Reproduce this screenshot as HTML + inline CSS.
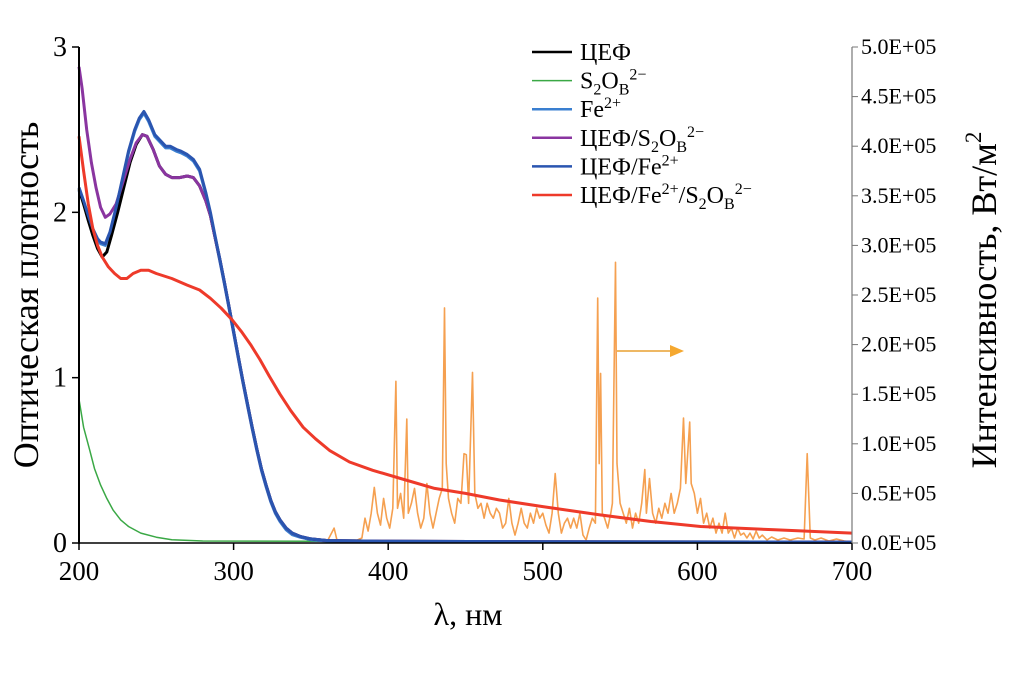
<!DOCTYPE html>
<html><head><meta charset="utf-8"><style>
body{margin:0;background:#fff}
svg, svg text{font-family:"Liberation Serif","DejaVu Serif",serif}
</style></head><body>
<svg id="chart" width="1010" height="671" viewBox="0 0 1010 671" xmlns="http://www.w3.org/2000/svg" font-family="Liberation Serif, serif">
<g id="series"></g>
<g id="axes"></g>
<g id="legend"></g>
<text x="468" y="625" font-size="32" text-anchor="middle" font-family="Liberation Serif, serif">λ, нм</text>
<text transform="translate(38,295) rotate(-90)" font-size="36" text-anchor="middle" font-family="Liberation Serif, serif">Оптическая плотность</text>
<text transform="translate(996,300) rotate(-90)" font-size="36" text-anchor="middle" font-family="Liberation Serif, serif">Интенсивность, Вт/м<tspan font-size="23" dy="-15">2</tspan></text>
<g>
<line x1="617" y1="351" x2="672" y2="351" stroke="#e8a030" stroke-width="1.5"/>
<polygon points="670,345 684,351 670,357" fill="#f5a830"/>
</g>
</svg>
<script>
const xTicks=[200,300,400,500,600,700];
const yTicks=[0,1,2,3];
const y2Ticks=[0,0.5,1,1.5,2,2.5,3,3.5,4,4.5,5];
const y2Labels=["0.0E+05","0.5E+05","1.0E+05","1.5E+05","2.0E+05","2.5E+05","3.0E+05","3.5E+05","4.0E+05","4.5E+05","5.0E+05"];
// lamp spectrum: wavelength, intensity (×1e4 W/m2)
const lampWl=[360,365,367,380,383,385,387,389,391,393,395,397,399,401,403,405,406,408,410,412,413,415,417,419,421,423,425,427,429,431,433,435,436.4,437.5,439,441,443,445,447,449,450.5,452,454.5,456,458,460,462,464,466,468,470,472,474,476,478,480,482,484,486,488,490,492,494,496,498,500,502,504,506,508,510,512,514,516,518,520,522,524,526,528,530,532,534,535.5,536.5,537.4,538.5,540,542,544,545,547,548,550,552,554,556,558,560,562,564,566,567,569,571,573,575,577,579,581,583,585,587,589,591,592.5,595,596,598,600,602,604,606,608,610,612,614,616,618,620,622,624,626,628,630,632,634,636,638,640,642,645,648,652,656,660,665,669,671,673,676,680,685,690,695,700];
const lampI=[0,1.5,0.2,0.3,0.5,2.5,1.2,3.0,5.6,3.0,1.8,4.5,2.5,1.5,3.5,16.3,3.5,5,2.5,12.5,3,4,5.5,3,1.5,2.5,6,3,1.5,3,4.5,5.5,23.7,8,4.5,3,2,4.5,4,9,8.9,4,17.2,5,3.5,4,2.5,4,3,2.5,3.5,3,1.5,2,4.5,2,0.8,2,3.5,2,1.5,3,2,3.5,2.5,3,1.8,1,3,7,3,1,2,2.5,1.5,2.5,1.5,3,0.8,0.3,1.5,2.5,2,24.7,8,17.1,3,2.5,1.5,3,4,28.3,8,4,3,2,3.5,1.5,3,2,4,7.4,3,6.5,3,2,3.5,2.5,4,3,5,3,4,5.5,12.6,6,12.2,6,5,3,4.5,2,3,1.5,2.5,1,2,1,3,1,1.5,0.5,1.5,0.8,1,0.5,1,0.4,1.2,0.5,0.8,0.3,0.6,0.3,0.5,0.3,0.5,0.4,9,0.5,0.3,0.5,0.2,0.4,0.2,0.1];
const cefWl=[200,203,206,209,212,215,218,221,225,229,233,237,241,244,248,252,256,260,265,270,274,278,282,285,288,291,294,297,300,303,306,309,312,315,318,321,324,327,330,334,338,343,350,360,400,500,700];
const cefA=[2.14,2.05,1.95,1.86,1.78,1.73,1.76,1.86,2.0,2.15,2.3,2.41,2.47,2.46,2.38,2.28,2.23,2.21,2.21,2.22,2.21,2.16,2.07,1.98,1.85,1.72,1.58,1.43,1.28,1.13,0.98,0.84,0.70,0.57,0.45,0.35,0.26,0.19,0.14,0.09,0.06,0.04,0.025,0.015,0.01,0.008,0.005];
const cefS2Wl=[200,202,205,208,211,214,217,220,224,228,233,237,241,244,248,252,256,260,265,270,274,278,282,285,288,291,294,297,300,303,306,309,312,315,318,321,324,327,330,334,338,343,350,360,400,500,700];
const cefS2A=[2.88,2.75,2.5,2.3,2.15,2.03,1.97,1.99,2.05,2.17,2.32,2.42,2.47,2.46,2.38,2.28,2.23,2.21,2.21,2.22,2.21,2.16,2.07,1.98,1.85,1.72,1.58,1.43,1.28,1.13,0.98,0.84,0.70,0.57,0.45,0.35,0.26,0.19,0.14,0.09,0.06,0.04,0.025,0.015,0.01,0.008,0.005];
const cefFeWl=[200,203,206,209,212,214,217,220,224,228,232,236,239,242,245,249,253,256,259,263,266,270,274,278,282,285,288,291,294,297,300,303,306,309,312,315,318,321,324,327,330,334,338,343,350,360,400,500,700];
const cefFeA=[2.15,2.07,1.98,1.9,1.84,1.82,1.81,1.88,2.03,2.2,2.37,2.5,2.57,2.61,2.56,2.47,2.43,2.4,2.4,2.38,2.37,2.35,2.32,2.26,2.12,2.0,1.86,1.72,1.58,1.43,1.28,1.13,0.98,0.84,0.70,0.57,0.45,0.35,0.26,0.19,0.14,0.09,0.06,0.04,0.025,0.015,0.01,0.008,0.005];
const feA=[2.13,2.06,1.97,1.89,1.83,1.81,1.8,1.87,2.02,2.19,2.36,2.49,2.56,2.6,2.55,2.46,2.42,2.39,2.39,2.37,2.36,2.34,2.31,2.25,2.11,1.99,1.85,1.71,1.57,1.42,1.27,1.12,0.97,0.83,0.69,0.56,0.44,0.34,0.25,0.18,0.13,0.08,0.05,0.035,0.02,0.012,0.008,0.006,0.004];
const redWl=[200,203,206,209,212,215,219,223,227,231,235,240,245,250,260,270,278,285,292,299,305,311,317,323,330,337,345,353,362,375,390,408,430,450,472,500,537,570,602,650,700];
const redA=[2.46,2.25,2.05,1.9,1.8,1.73,1.67,1.63,1.6,1.6,1.63,1.65,1.65,1.63,1.6,1.56,1.53,1.48,1.42,1.35,1.28,1.2,1.11,1.01,0.9,0.8,0.7,0.63,0.56,0.49,0.44,0.39,0.33,0.3,0.26,0.22,0.17,0.13,0.1,0.08,0.06];
const greenWl=[200,203,207,210,214,218,222,227,232,240,250,260,280,700];
const greenA=[0.87,0.7,0.56,0.45,0.35,0.27,0.2,0.14,0.1,0.06,0.035,0.02,0.012,0.005];
const legendLabels=[["ЦЕФ"],["S","2","O","B","2−"],["Fe","2+"],["ЦЕФ/S","2","O","B","2−"],["ЦЕФ/Fe","2+"],["ЦЕФ/Fe","2+","/S","2","O","B","2−"]];
const legendColors=["#000000","#3aa845","#3a7fd0","#8a35a0","#2a55b0","#ee3a2a"];

const X0=79,X1=852,Y0=543,Y1=47;
const FF="Liberation Serif, serif";
const xs=v=>X0+(v-200)/500*(X1-X0);
const ys=v=>Y0-v/3*(Y0-Y1);
const y2s=v=>Y0-v/50*(Y0-Y1);
const NS="http://www.w3.org/2000/svg";
function mk(tag,parent,attrs){const e=document.createElementNS(NS,tag);for(const k in attrs)e.setAttribute(k,attrs[k]);parent.appendChild(e);return e;}
const S=document.getElementById('series'),A=document.getElementById('axes'),L=document.getElementById('legend');
function line(wl,vals,scale,color,w,name){
  const d=wl.map((x,i)=>(i?'L':'M')+xs(x).toFixed(1)+','+scale(vals[i]).toFixed(1)).join('');
  const p=mk('path',S,{d:d,fill:'none',stroke:color,'stroke-width':w,'stroke-linejoin':'round'});
  
  
}
line(lampWl,lampI,y2s,"#f5a050",1.6,'lamp-spectrum-line');
line(greenWl,greenA,ys,legendColors[1],1.5,'s2o8-line');
line(cefFeWl,feA,ys,legendColors[2],3,'fe-line');
line(cefWl,cefA,ys,legendColors[0],3,'cef-line');
line(cefS2Wl,cefS2A,ys,legendColors[3],3,'cef-s2o8-line');
line(cefFeWl,cefFeA,ys,legendColors[4],3,'cef-fe-line');
line(redWl,redA,ys,legendColors[5],3,'cef-fe-s2o8-line');
// axes
mk('line',A,{x1:X0,y1:Y1,x2:X0,y2:Y0+1,stroke:'#000','stroke-width':2});
mk('line',A,{x1:X0,y1:Y0,x2:X1,y2:Y0,stroke:'#000','stroke-width':1.5});
mk('line',A,{x1:X1,y1:Y1,x2:X1,y2:Y0,stroke:'#777','stroke-width':1.2});
xTicks.forEach(v=>{
  mk('line',A,{x1:xs(v),y1:Y0,x2:xs(v),y2:Y0+7,stroke:'#000','stroke-width':1.5});
  const t=mk('text',A,{x:xs(v),y:Y0+37,'font-size':27,'text-anchor':'middle','font-family':FF});t.textContent=v;
  
  
});
yTicks.forEach(v=>{
  mk('line',A,{x1:X0-7,y1:ys(v),x2:X0,y2:ys(v),stroke:'#000','stroke-width':1.5});
  const t=mk('text',A,{x:X0-12,y:ys(v)+9,'font-size':28,'text-anchor':'end','font-family':FF});t.textContent=v;
  
  
});
y2Ticks.forEach((v,i)=>{
  mk('line',A,{x1:X1,y1:y2s(v*10),x2:X1+6,y2:y2s(v*10),stroke:'#777','stroke-width':1});
  const t=mk('text',A,{x:X1+9,y:y2s(v*10)+7,'font-size':22,'font-family':FF});t.textContent=y2Labels[i];
  
  
});
// legend
legendLabels.forEach((parts,i)=>{
  const y=52+i*28.6;
  const g=mk('g',L,{});
  
  
  mk('line',g,{x1:532,y1:y,x2:572,y2:y,stroke:legendColors[i],'stroke-width':i==1?1.5:2.5});
  const t=mk('text',g,{x:580,y:y+8,'font-size':24,'font-family':FF});
  let mode=0;
  parts.forEach((p,j)=>{
    const ts=mk('tspan',t,{});ts.textContent=p;
    let nm=0;
    if(p==="2"||p==="B") nm=1; else if(p.indexOf("+")>=0||p.indexOf("−")>=0) nm=2;
    const off=[0,6,-9][nm]-[0,6,-9][mode];
    if(off)ts.setAttribute('dy',off);
    if(nm)ts.setAttribute('font-size',16);
    mode=nm;
  });
});
</script>
</body></html>
